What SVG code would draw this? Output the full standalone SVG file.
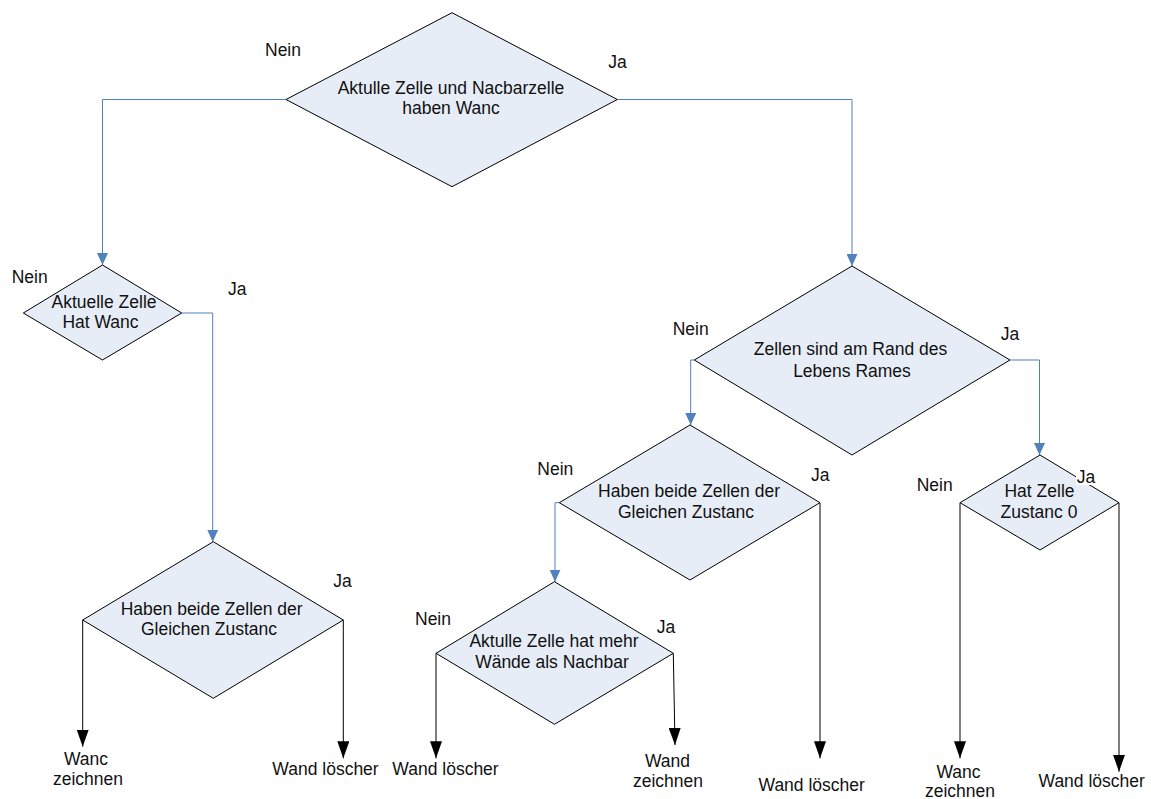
<svg xmlns="http://www.w3.org/2000/svg" width="1151" height="799" viewBox="0 0 1151 799">
<style>
.d{fill:#e7edf7;stroke:#000;stroke-width:1}
.t{font-family:"Liberation Sans",Arial,sans-serif;font-size:17.5px;fill:#111}
.m{text-anchor:middle}
.b{fill:none;stroke:#4f81bd;stroke-width:1}
.k{fill:none;stroke:#000;stroke-width:1}
</style>
<defs>
<marker id="ab" markerUnits="userSpaceOnUse" markerWidth="12" markerHeight="11" refX="12" refY="5.5" orient="auto"><path d="M0,0 L12,5.5 L0,11 z" fill="#4f81bd"/></marker>
<marker id="ak" markerUnits="userSpaceOnUse" markerWidth="17" markerHeight="12" refX="17" refY="6" orient="auto"><path d="M0,0 L17,6 L0,12 z" fill="#000"/></marker>
</defs>
<rect width="1151" height="799" fill="#fff"/>
<g id="connectors">
<path class="b" d="M286,99.5 H102.5 V265" marker-end="url(#ab)"/>
<path class="b" d="M617,99.5 H852 V266" marker-end="url(#ab)"/>
<path class="b" d="M181.7,313 H212.7 V541.7" marker-end="url(#ab)"/>
<path class="b" d="M694.3,360 H690.7 V425" marker-end="url(#ab)"/>
<path class="b" d="M1010,360 H1039.5 V455" marker-end="url(#ab)"/>
<path class="b" d="M559.3,502.7 H555 V581.7" marker-end="url(#ab)"/>
<path class="k" d="M82.7,620 V746.7" marker-end="url(#ak)"/>
<path class="k" d="M343.3,620 V758.3" marker-end="url(#ak)"/>
<path class="k" d="M436,653.3 V758.3" marker-end="url(#ak)"/>
<path class="k" d="M673.3,653.3 L675,745" marker-end="url(#ak)"/>
<path class="k" d="M820,502.7 V758.3" marker-end="url(#ak)"/>
<path class="k" d="M960,502.7 V758.3" marker-end="url(#ak)"/>
<path class="k" d="M1119,502.7 V771.7" marker-end="url(#ak)"/>
</g>
<g id="n1">
<polygon class="d" points="452,12.7 617.3,99.5 452,186.7 286,99.5"/>
<text class="t m" x="451" y="94.3">Aktulle Zelle und Nacbarzelle</text>
<text class="t m" x="451" y="114.3">haben Wanc</text>
</g>
<g id="n2">
<polygon class="d" points="102.5,265 181.7,313 102.5,360 23.3,313"/>
<text class="t m" x="104" y="308.3">Aktuelle Zelle</text>
<text class="t m" x="100.5" y="328.3">Hat Wanc</text>
</g>
<g id="n3">
<polygon class="d" points="213.3,541.7 343.3,620 213.3,698.3 82.7,620"/>
<text class="t m" x="211.7" y="615">Haben beide Zellen der</text>
<text class="t m" x="209" y="635">Gleichen Zustanc</text>
</g>
<g id="n4">
<polygon class="d" points="852,266 1010,360 852,455 694.3,360"/>
<text class="t m" x="850.5" y="355">Zellen sind am Rand des</text>
<text class="t m" x="852" y="376.7">Lebens Rames</text>
</g>
<g id="n5">
<polygon class="d" points="690,425 820,502.7 690,580 559.3,502.7"/>
<text class="t m" x="689" y="497.3">Haben beide Zellen der</text>
<text class="t m" x="686" y="518.3">Gleichen Zustanc</text>
</g>
<g id="n6">
<polygon class="d" points="1040,455 1119,502.7 1040,550 960,502.7"/>
<text class="t m" x="1039.5" y="497.3">Hat Zelle</text>
<text class="t m" x="1039" y="518.3">Zustanc 0</text>
</g>
<g id="n7">
<polygon class="d" points="554.5,581.7 673.3,653.3 554.5,724.3 436,653.3"/>
<text class="t m" x="554" y="647.3">Aktulle Zelle hat mehr</text>
<text class="t m" x="552" y="668.3">Wände als Nachbar</text>
</g>
<g id="labels">
<text class="t" x="265" y="56">Nein</text>
<text class="t" x="608.3" y="68.3">Ja</text>
<text class="t" x="11.7" y="283.3">Nein</text>
<text class="t" x="228" y="295">Ja</text>
<text class="t" x="333.3" y="587.3">Ja</text>
<text class="t" x="672.7" y="335">Nein</text>
<text class="t" x="1000.7" y="340">Ja</text>
<text class="t" x="537.3" y="475">Nein</text>
<text class="t" x="811" y="480.7">Ja</text>
<text class="t" x="415" y="625">Nein</text>
<text class="t" x="656.7" y="632.7">Ja</text>
<text class="t" x="916.7" y="490.7">Nein</text>
<rect x="1076" y="468" width="18" height="17" fill="#fff"/>
<text class="t" x="1076.7" y="483.3">Ja</text>
</g>
<g id="results">
<text class="t m" x="86" y="765">Wanc</text>
<text class="t m" x="88" y="785">zeichnen</text>
<text class="t m" x="325.5" y="775">Wand löscher</text>
<text class="t m" x="445.5" y="775">Wand löscher</text>
<text class="t m" x="667.5" y="766.7">Wand</text>
<text class="t m" x="668" y="786.7">zeichnen</text>
<text class="t m" x="811.7" y="790.7">Wand löscher</text>
<text class="t m" x="958.5" y="778.3">Wanc</text>
<text class="t m" x="960" y="797">zeichnen</text>
<text class="t m" x="1091.7" y="786.7">Wand löscher</text>
</g>
</svg>
